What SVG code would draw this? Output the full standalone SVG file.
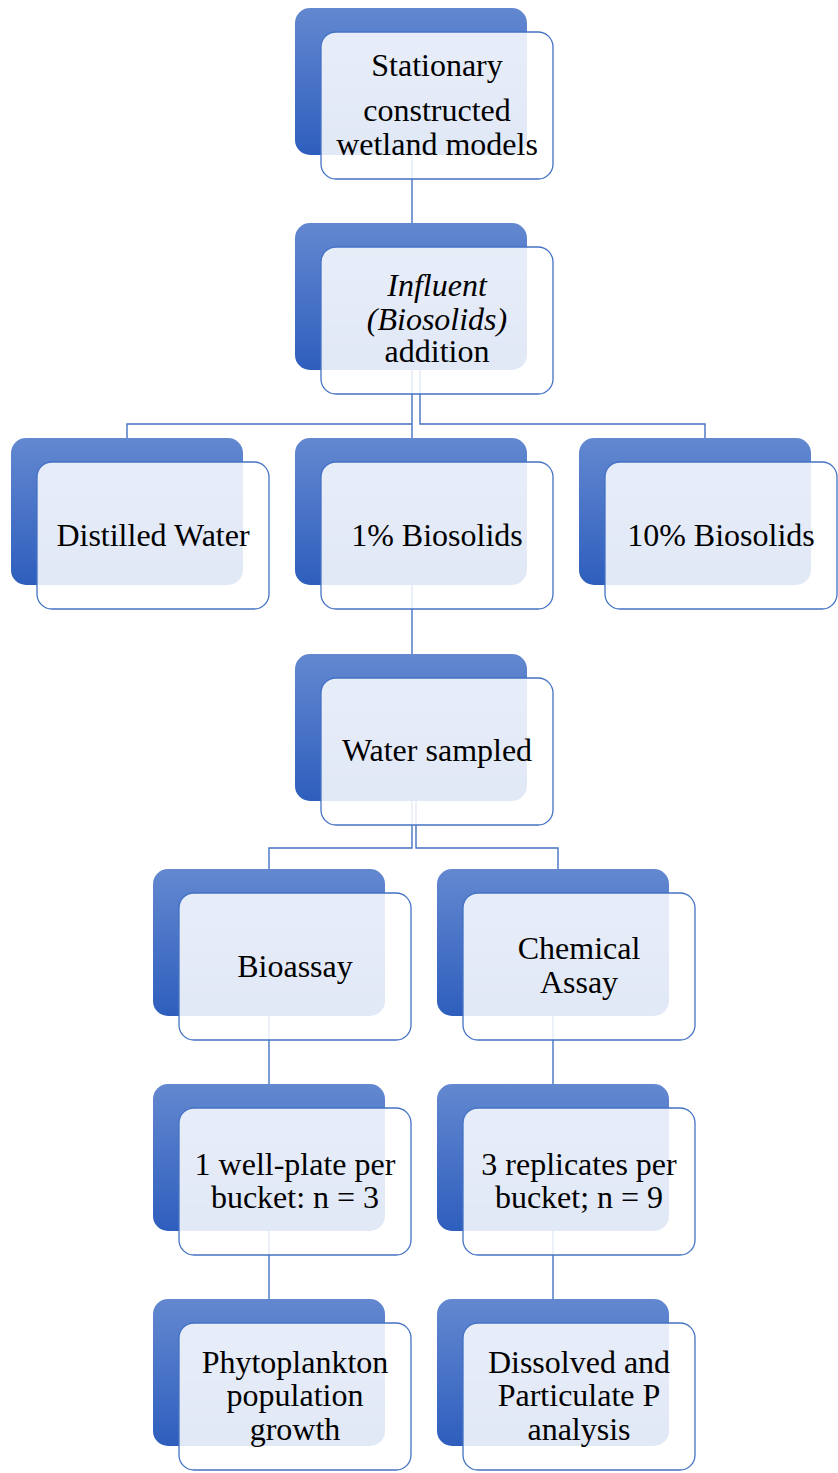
<svg xmlns="http://www.w3.org/2000/svg" width="838" height="1473" viewBox="0 0 838 1473">
  <defs>
    <linearGradient id="backFill" x1="0" y1="0" x2="0" y2="1">
      <stop offset="0" stop-color="#6388D0"/>
      <stop offset="1" stop-color="#2E5EBD"/>
    </linearGradient>
    <style>
      .back { fill: url(#backFill); }
      .card { fill: #FFFFFF; fill-opacity: 0.86; stroke: #4472C4; stroke-width: 1.3; }
      .conn { fill: none; stroke: #4472C4; stroke-width: 1.4; }
      text { font-family: "Liberation Serif", "Times New Roman", serif; font-size: 32px; fill: #000000; text-anchor: middle; }
      .it { font-style: italic; }
    </style>
  </defs>
  <rect width="838" height="1473" fill="#FFFFFF"/>

  <!-- connectors (drawn under the node shapes) -->
  <g id="connectors">
    <path class="conn" d="M412,155 V223"/>
    <path class="conn" d="M412,370 V438 M412,424 H127 V438"/>
    <path class="conn" d="M420,370 V424 H705 V438"/>
    <path class="conn" d="M412,585 V654"/>
    <path class="conn" d="M412,801 V848 H269 V869"/>
    <path class="conn" d="M416,801 V848 H558 V869"/>
    <path class="conn" d="M269,1016 V1084"/>
    <path class="conn" d="M553,1016 V1084"/>
    <path class="conn" d="M269,1231 V1299"/>
    <path class="conn" d="M553,1231 V1299"/>
  </g>

  <g id="node-wetland">
    <rect class="back" x="295" y="8" width="232" height="147" rx="15"/>
    <rect class="card" x="321" y="32" width="232" height="147" rx="15"/>
    <text x="437" y="76">Stationary</text>
    <text x="437" y="121">constructed</text>
    <text x="437" y="155">wetland models</text>
  </g>

  <g id="node-influent">
    <rect class="back" x="295" y="223" width="232" height="147" rx="15"/>
    <rect class="card" x="321" y="247" width="232" height="147" rx="15"/>
    <text class="it" x="437" y="296">Influent</text>
    <text class="it" x="437" y="330">(Biosolids)</text>
    <text x="437" y="362">addition</text>
  </g>

  <g id="node-distilled">
    <rect class="back" x="11" y="438" width="232" height="147" rx="15"/>
    <rect class="card" x="37" y="462" width="232" height="147" rx="15"/>
    <text x="153" y="546">Distilled Water</text>
  </g>

  <g id="node-1pct">
    <rect class="back" x="295" y="438" width="232" height="147" rx="15"/>
    <rect class="card" x="321" y="462" width="232" height="147" rx="15"/>
    <text x="437" y="546">1% Biosolids</text>
  </g>

  <g id="node-10pct">
    <rect class="back" x="579" y="438" width="232" height="147" rx="15"/>
    <rect class="card" x="605" y="462" width="232" height="147" rx="15"/>
    <text x="721" y="546">10% Biosolids</text>
  </g>

  <g id="node-water">
    <rect class="back" x="295" y="654" width="232" height="147" rx="15"/>
    <rect class="card" x="321" y="678" width="232" height="147" rx="15"/>
    <text x="437" y="761">Water sampled</text>
  </g>

  <g id="node-bioassay">
    <rect class="back" x="153" y="869" width="232" height="147" rx="15"/>
    <rect class="card" x="179" y="893" width="232" height="147" rx="15"/>
    <text x="295" y="977">Bioassay</text>
  </g>

  <g id="node-chemical">
    <rect class="back" x="437" y="869" width="232" height="147" rx="15"/>
    <rect class="card" x="463" y="893" width="232" height="147" rx="15"/>
    <text x="579" y="959">Chemical</text>
    <text x="579" y="993">Assay</text>
  </g>

  <g id="node-wellplate">
    <rect class="back" x="153" y="1084" width="232" height="147" rx="15"/>
    <rect class="card" x="179" y="1108" width="232" height="147" rx="15"/>
    <text x="295" y="1175">1 well-plate per</text>
    <text x="295" y="1208">bucket: n = 3</text>
  </g>

  <g id="node-replicates">
    <rect class="back" x="437" y="1084" width="232" height="147" rx="15"/>
    <rect class="card" x="463" y="1108" width="232" height="147" rx="15"/>
    <text x="579" y="1175">3 replicates per</text>
    <text x="579" y="1208">bucket; n = 9</text>
  </g>

  <g id="node-phyto">
    <rect class="back" x="153" y="1299" width="232" height="147" rx="15"/>
    <rect class="card" x="179" y="1323" width="232" height="147" rx="15"/>
    <text x="295" y="1373">Phytoplankton</text>
    <text x="295" y="1406">population</text>
    <text x="295" y="1440">growth</text>
  </g>

  <g id="node-phosphorus">
    <rect class="back" x="437" y="1299" width="232" height="147" rx="15"/>
    <rect class="card" x="463" y="1323" width="232" height="147" rx="15"/>
    <text x="579" y="1373">Dissolved and</text>
    <text x="579" y="1406">Particulate P</text>
    <text x="579" y="1440">analysis</text>
  </g>
</svg>
